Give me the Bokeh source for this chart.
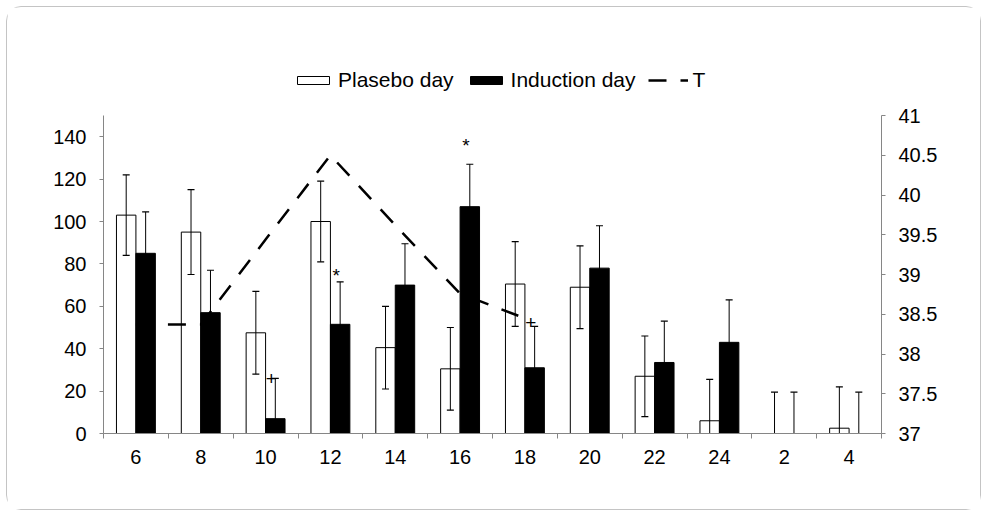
from bokeh.plotting import figure
from bokeh.models import Range1d, LinearAxis, FixedTicker, Legend, LegendItem
from bokeh.core.properties import value
from bokeh.embed import file_html
from bokeh.resources import INLINE

# ---- data ----
categories = ["6", "8", "10", "12", "14", "16", "18", "20", "22", "24", "2", "4"]
plasebo = [103, 95, 47.5, 100, 40.5, 30.5, 70.5, 69, 27, 6, 0, 2.5]
plasebo_err = [19, 20, 19.5, 19, 19.5, 19.5, 20, 19.5, 19, 19.5, 19.5, 19.5]
induction = [85, 57, 7, 51.5, 70, 107, 31, 78, 33.5, 43, 0, 0]
induction_err = [19.5, 20, 19, 20, 19.5, 20, 19.5, 20, 19.5, 20, 19.5, 19.5]
temp_categories = ["6", "8", "10", "12", "14", "16", "18"]
temperature = [38.37, 38.37, 39.44, 40.5, 39.62, 38.76, 38.45]
left_ticks = [0, 20, 40, 60, 80, 100, 120, 140]
left_max = 150
right_ticks = [37, 37.5, 38, 38.5, 39, 39.5, 40, 40.5, 41]
mark_categories = ["10", "12", "16", "18"]
mark_symbols = ["+", "*", "*", "+"]
mark_values = [26, 74.5, 136, 52.4]

FONT = "Liberation Sans"
AXIS_COLOR = "#868686"
BAR_W = 0.3
OFF = 0.15

# frame: axes occupy the lower AXIS_H px; the frame extends higher to hold the legend
FRAME_W = 778
AXIS_H = 318
FRAME_H = 381
scale = FRAME_H / AXIS_H

n = len(categories)
centers = [i + 0.5 for i in range(n)]
idx = {c: i for i, c in enumerate(categories)}
r_lo, r_hi = right_ticks[0], right_ticks[-1]

p = figure(output_backend="svg", toolbar_location=None,
           x_range=Range1d(0, n), y_range=Range1d(0, left_max * scale),
           frame_width=FRAME_W, frame_height=FRAME_H)
p.min_border_left = 96
p.min_border_right = 99
p.min_border_top = 45
p.min_border_bottom = 76
p.outline_line_color = None
p.background_fill_color = "white"
p.border_fill_color = "white"
p.xgrid.visible = False
p.ygrid.visible = False
p.styles = {"border": "1px solid #c4c4c4", "border-radius": "15px", "margin": "6px"}
p.extra_y_ranges = {"T": Range1d(r_lo, r_lo + (r_hi - r_lo) * scale)}

# axes
p.xaxis.ticker = FixedTicker(ticks=centers, minor_ticks=list(range(n + 1)))
p.xaxis.major_label_overrides = {c: lab for c, lab in zip(centers, categories)}
p.yaxis.ticker = FixedTicker(ticks=left_ticks)
p.yaxis.bounds = (0, left_max)
for ax in p.xaxis + p.yaxis:
    ax.axis_line_color = AXIS_COLOR
    ax.major_tick_line_color = AXIS_COLOR
    ax.minor_tick_line_color = AXIS_COLOR
    ax.major_label_text_font = FONT
    ax.major_label_text_font_size = "20px"
    ax.major_label_text_color = "black"
p.xaxis.major_tick_out = 0
p.xaxis.major_tick_in = 0
p.xaxis.minor_tick_out = 5
p.xaxis.minor_tick_in = 0
p.xaxis.major_label_standoff = 11
p.yaxis.major_tick_out = 4
p.yaxis.major_tick_in = 0
p.yaxis.minor_tick_line_color = None
p.yaxis.major_label_standoff = 13

right = LinearAxis(y_range_name="T", ticker=FixedTicker(ticks=right_ticks), bounds=(r_lo, r_hi))
right.major_label_overrides = {t: ("%g" % t) for t in right_ticks}
right.axis_line_color = AXIS_COLOR
right.major_tick_line_color = AXIS_COLOR
right.minor_tick_line_color = None
right.major_tick_out = 4
right.major_tick_in = 0
right.major_label_text_font = FONT
right.major_label_text_font_size = "20px"
right.major_label_text_color = "black"
right.major_label_standoff = 13
p.add_layout(right, "right")

# bars
xp = [c - OFF for c in centers]
xi = [c + OFF for c in centers]
r_pl = p.vbar(x=xp, top=plasebo, width=BAR_W, fill_color="white", line_color="black", line_width=1)
r_in = p.vbar(x=xi, top=induction, width=BAR_W, fill_color="black", line_color="black", line_width=1)

# error bars
def draw_err(xs, vals, errs):
    lo = [max(v - e, 0) for v, e in zip(vals, errs)]
    hi = [v + e for v, e in zip(vals, errs)]
    p.segment(x0=xs, y0=lo, x1=xs, y1=hi, line_color="black", line_width=1)
    p.scatter(x=xs, y=hi, marker="dash", size=7, line_color="black", line_width=1.2)
    cx = [x for x, v, e in zip(xs, vals, errs) if v - e > 0]
    cy = [v - e for v, e in zip(vals, errs) if v - e > 0]
    p.scatter(x=cx, y=cy, marker="dash", size=7, line_color="black", line_width=1.2)

draw_err(xp, plasebo, plasebo_err)
draw_err(xi, induction, induction_err)

# temperature line
tx = [idx[c] + 0.5 for c in temp_categories]
r_t = p.line(x=tx, y=temperature, y_range_name="T", line_color="black",
             line_width=2.5, line_dash="18 14")

# significance marks
mx = [idx[c] + 0.5 + OFF - 0.06 for c in mark_categories]
p.text(x=mx, y=mark_values, text=mark_symbols, text_font=value(FONT),
       text_font_size="19px", text_align="center", text_baseline="middle", text_color="black")

legend = Legend(items=[LegendItem(label="Plasebo day", renderers=[r_pl]),
                       LegendItem(label="Induction day", renderers=[r_in]),
                       LegendItem(label="T", renderers=[r_t])],
                orientation="horizontal", location=(190, 341),
                glyph_width=40, glyph_height=10, label_standoff=5, spacing=12,
                padding=0, margin=0, border_line_color=None, background_fill_alpha=0,
                label_text_font=FONT, label_text_font_size="21px", label_text_color="black")
p.add_layout(legend, "center")

open("out.html", "w").write(file_html(p, INLINE))
